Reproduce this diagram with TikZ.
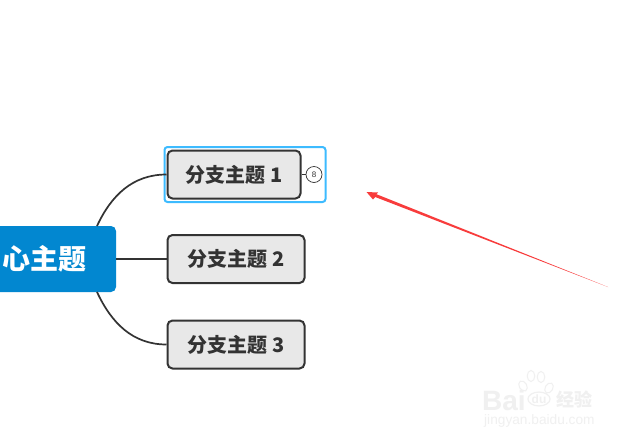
\documentclass[tikz,border=0pt]{standalone}
\usepackage{fontspec}
\usepackage{tikz}
\usetikzlibrary{shapes.geometric}
\newfontfamily\cjk{Noto Sans CJK SC}
\setmainfont{Liberation Sans}
\definecolor{mainblue}{HTML}{0287D0}
\definecolor{branchgray}{HTML}{E8E8E8}
\definecolor{inkgray}{HTML}{333333}
\definecolor{selectblue}{HTML}{3DBBFF}
\definecolor{arrowred}{HTML}{F83C3C}
\definecolor{markgray}{HTML}{F0F0F0}
\tikzset{
  mainnode/.style={fill=mainblue, rounded corners=5pt, minimum width=170pt, minimum height=66pt, text=white, font=\cjk\bfseries\fontsize{28}{28}\selectfont},
  branchnode/.style={draw=inkgray, line width=2pt, fill=branchgray, rounded corners=5pt, minimum height=48pt, inner sep=0pt, text=inkgray, anchor=west, font=\cjk\bfseries\fontsize{20}{20}\selectfont},
  linkline/.style={draw=inkgray, line width=1.7pt}
}
\begin{document}
\begin{tikzpicture}[x=1pt, y=-1pt]
    \clip (0,0) rectangle (630,440);
    \fill[white] (0,0) rectangle (630,440);
    \node[mainnode] (main) at (31,259) {中心主题};
    \node[draw=selectblue, line width=2pt, rounded corners=3pt, minimum width=161pt, minimum height=55pt] (select) at (245,174.5) {};
    \foreach \i/\y/\w in {1/174.5/133, 2/259/137, 3/344.5/137}
    \node[branchnode, minimum width=\w pt] (branch\i) at (166.5,\y) {分支主题 \i};
    \node[circle, draw=inkgray, line width=0.7pt, fill=white, minimum size=16pt, inner sep=0pt, font=\fontsize{8}{8}\selectfont, text=inkgray] (count) at (314,174.5) {8};
    \coordinate (trunkup) at (97,226);
    \coordinate (trunkdown) at (97,292);
    \draw[linkline] (trunkup) to[out=65, in=180] (branch1.west);
    \draw[linkline] (main.east) -- (branch2.west);
    \draw[linkline] (trunkdown) to[out=-65, in=180] (branch3.west);
    \draw[draw=inkgray, line width=1pt] (branch1.east) -- (count.west);
    % the red arrow, thin at its tail
    \coordinate (arrowtail) at (608,287);
    \coordinate (arrowtip) at (366.5,192);
    \fill[arrowred] (arrowtip) -- (378,192.5) -- (376.5,194.2) -- (arrowtail) -- (375.2,197) -- (373,199.5) -- cycle;
    % the watermark
    \node[text=markgray, font=\fontsize{28}{28}\selectfont\bfseries, anchor=west, inner sep=0pt] (markbai) at (482,400.5) {Bai};
    \foreach \i/\x/\y/\r in {1/523/386/30, 2/531/376/0, 3/541/377/0, 4/549/388/-30}
    \draw[markgray, line width=1pt, rotate around={\r:(\x,\y)}] (\x,\y) ellipse (3.8pt and 5.5pt);
    \node[draw=markgray, line width=1.2pt, ellipse, text=markgray, inner sep=0.5pt, font=\fontsize{12}{12}\selectfont\bfseries] (markdu) at (539,399) {du};
    \node[text=markgray, font=\cjk\bfseries\fontsize{18}{18}\selectfont, anchor=west, inner sep=0pt] (markjy) at (556,399) {经验};
    \node[text=markgray, font=\fontsize{13.7}{13.7}\selectfont, anchor=west, inner sep=0pt] (markurl) at (484,421) {jingyan.baidu.com};
  \end{tikzpicture}
\end{document}
